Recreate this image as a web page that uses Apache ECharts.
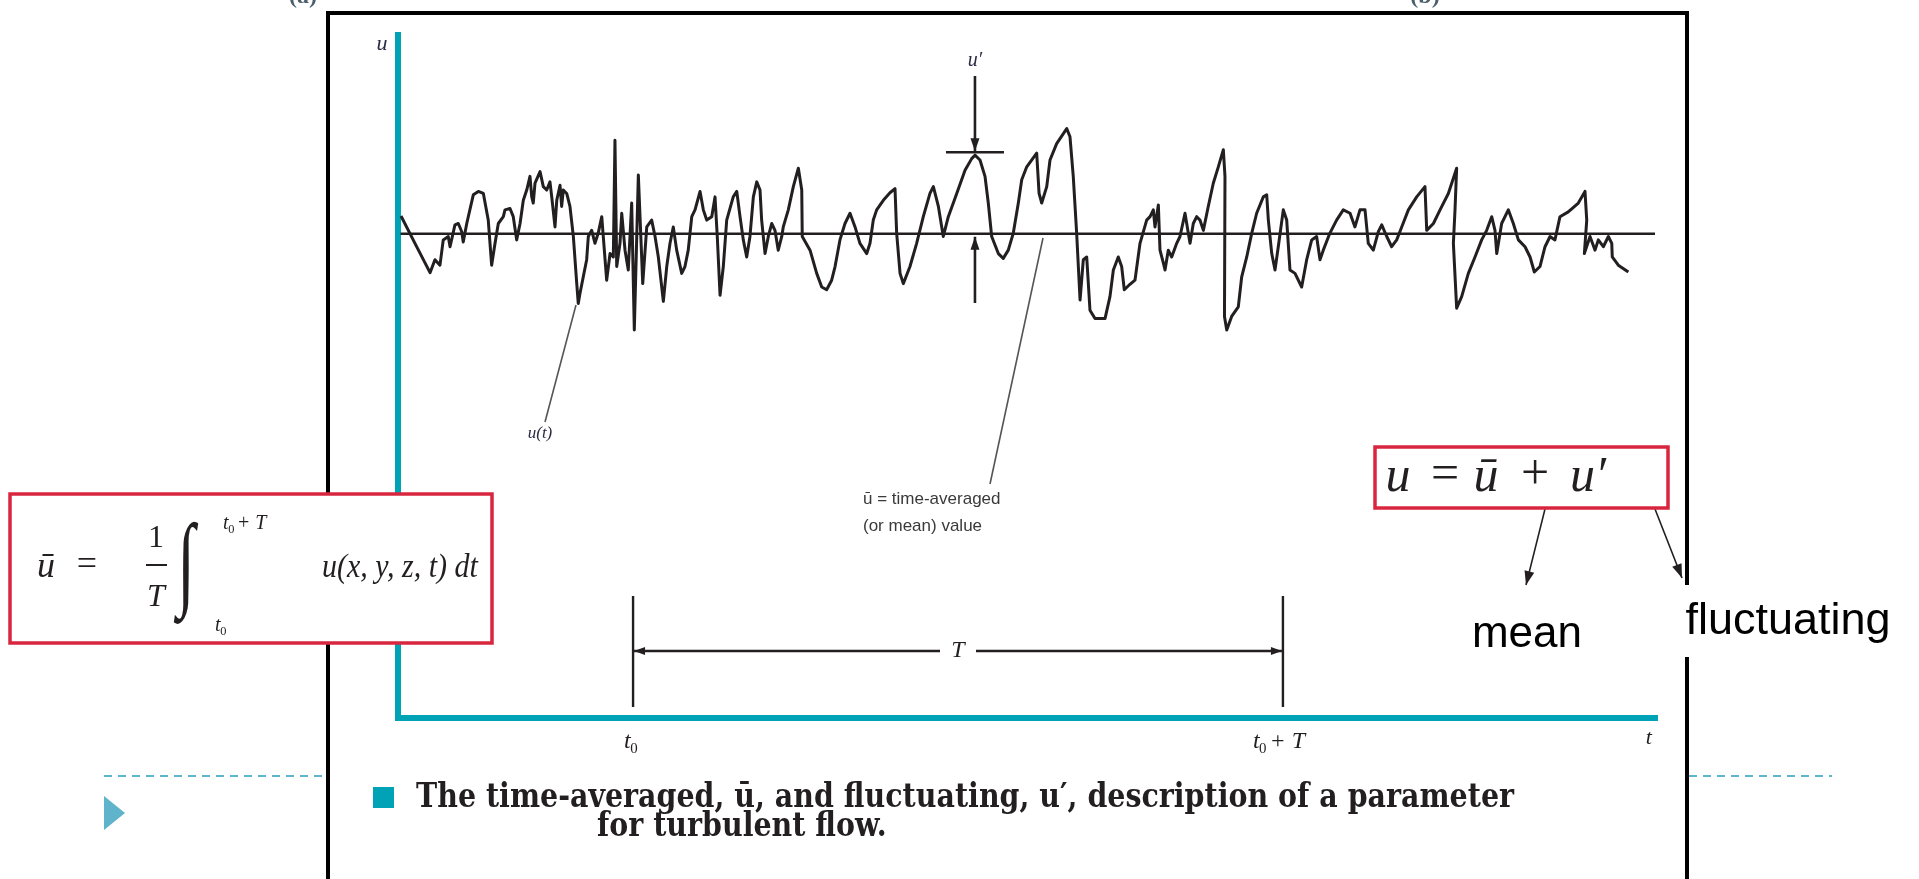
<!DOCTYPE html>
<html>
<head>
<meta charset="utf-8">
<title>Time-averaged and fluctuating description of a turbulent parameter</title>
<script src="https://cdn.jsdelivr.net/npm/echarts@6/dist/echarts.min.js"></script>
<style>
  html, body { margin: 0; padding: 0; background: #ffffff; }
  #chart { width: 1919px; height: 879px; }
</style>
</head>
<body>
<div id="chart"></div>
<script>
// Sampled record u(t): time (arbitrary units, 0–100) and velocity u (arbitrary units, 0–100)
const signalT = [
  0.24,1.35,2.55,2.94,3.34,3.60,4.00,4.14,4.53,4.80,5.07,5.19,5.47,5.99,6.39,6.79,7.18,7.45,7.72,7.98,
  8.38,8.51,8.91,9.17,9.44,9.71,9.97,10.24,10.50,10.64,10.76,10.90,11.30,11.56,11.83,12.09,12.23,12.49,12.63,12.89,
  13.02,13.15,13.42,13.68,13.95,14.22,14.34,14.48,14.74,15.01,15.14,15.41,15.67,15.93,16.21,16.33,16.60,16.87,17.13,17.26,
  17.40,17.66,17.80,18.06,18.32,18.59,18.80,19.12,
  19.47,19.79,20.18,20.45,20.71,21.11,21.38,21.64,21.90,22.17,22.57,22.83,23.09,23.37,23.63,24.03,24.29,24.56,24.96,25.22,
  25.40,25.62,25.88,26.15,26.67,26.95,27.21,27.47,27.74,28.00,28.27,28.54,28.80,28.93,29.20,29.46,29.73,29.99,30.25,30.53,
  30.65,31.05,31.45,31.85,32.12,32.16,32.78,33.31,33.71,34.10,34.50,34.77,35.16,35.56,35.96,36.36,36.75,37.29,37.55,37.81,
  38.08,38.61,
  39.14,39.54,39.67,39.94,40.20,40.73,41.26,41.79,42.32,42.59,42.99,43.38,43.78,44.45,45.11,45.64,45.90,46.30,46.70,46.96,
  47.23,47.76,48.15,48.55,48.95,49.35,49.62,50.02,50.81,51.00,51.21,51.61,51.87,52.40,53.20,53.46,53.72,53.99,54.26,54.52,
  54.79,55.05,55.45,56.25,56.64,56.91,57.30,57.57,57.78,58.23,
  58.63,59.03,59.56,59.83,60.09,60.22,60.49,60.62,60.89,61.02,61.28,61.55,61.95,62.21,62.61,62.87,63.01,63.27,63.54,63.80,
  64.07,64.46,64.86,65.26,65.66,65.79,65.75,65.93,66.32,66.85,67.12,67.52,67.92,68.31,68.84,69.11,69.24,69.51,69.77,70.03,
  70.43,70.70,70.96,71.36,71.89,72.29,72.69,73.08,73.35,73.61,74.14,74.67,75.20,75.74,76.13,76.53,76.93,77.19,77.59,77.99,
  78.26,78.66,79.05,79.45,79.85,80.38,81.04,81.70,81.84,82.37,82.90,83.56,84.22,84.09,83.96,84.22,84.62,85.15,85.68,86.21,
  86.61,87.01,87.27,87.41,87.80,88.33,88.73,89.13,89.66,90.06,90.40,90.85,91.25,91.65,92.04,92.44,93.10,93.90,94.43,94.57,
  94.38,94.83,95.23,95.49,95.89,96.29,96.56,96.60,97.08,97.88
];
const signalU = [
  73.5,69.5,65.2,67.1,66.3,70.0,70.5,69.0,72.2,72.4,71.2,69.7,72.4,76.6,77.1,76.8,72.9,66.3,69.5,72.4,
  73.4,74.4,74.6,73.4,70.0,72.4,75.8,77.3,79.3,76.3,75.4,78.3,80.0,77.8,77.3,78.5,76.3,71.9,75.8,78.0,
  74.9,77.3,76.8,74.9,70.5,63.6,60.7,62.2,64.6,67.1,70.5,71.4,69.5,71.0,73.4,70.5,64.1,68.0,67.5,84.6,
  66.1,69.5,73.9,68.5,65.6,75.4,56.8,79.5,
  63.6,71.9,72.9,70.5,67.5,61.0,66.1,69.5,71.9,68.5,65.1,66.1,68.5,73.4,74.4,77.1,74.4,72.9,73.4,76.3,
  70.5,61.9,66.1,72.9,76.3,77.1,73.4,70.0,67.5,70.5,76.3,78.5,77.3,72.9,68.0,70.5,72.4,71.4,68.5,70.5,
  71.9,74.4,77.8,80.5,77.3,70.5,68.5,65.1,63.1,62.7,64.1,66.1,70.0,72.4,73.9,71.9,69.5,68.0,69.5,72.9,
  74.4,75.8,
  76.9,77.5,71.0,65.1,63.6,66.1,69.5,73.4,76.8,77.8,74.9,70.5,73.4,76.8,80.2,81.9,82.4,81.7,79.3,75.4,
  70.5,68.0,67.3,68.5,71.0,75.4,78.8,80.7,82.7,76.8,75.4,77.8,81.7,84.1,86.3,85.1,79.3,71.0,61.2,67.1,
  67.5,59.7,58.5,58.5,61.7,65.6,67.5,66.1,62.7,63.5,
  64.1,69.5,72.9,73.4,74.4,71.9,75.1,68.5,66.6,65.6,68.5,67.5,69.5,70.5,73.9,71.0,69.5,72.4,73.4,72.9,
  71.4,74.9,78.3,80.7,83.2,79.3,58.8,56.8,58.8,60.2,64.6,67.5,71.0,73.9,76.3,76.6,72.9,68.0,65.6,69.0,
  74.4,72.9,65.6,65.1,63.1,67.1,70.0,70.5,67.1,68.5,71.0,72.9,74.4,73.9,71.9,74.4,74.4,69.5,68.5,71.2,
  72.2,70.5,69.0,70.0,71.9,74.4,76.3,77.8,71.4,72.4,74.4,76.8,80.5,74.4,69.5,60.0,61.7,65.1,67.5,70.0,
  71.4,73.4,71.4,68.0,72.4,74.4,72.4,70.0,69.0,67.5,65.3,66.1,69.0,70.5,70.0,73.4,74.1,75.4,77.1,72.9,
  68.0,70.5,68.5,70.0,69.0,70.5,69.5,67.5,66.3,65.3
];

// Time-averaged value and the span it is drawn over
const meanU = 70.9;
const meanSpan = [0.2, 100];

// Averaging window [t0, t0 + T] and the instant where u' is marked
const t0 = 18.7;
const T = 51.7;
const uPrimeT = 45.90;

// Axis extents
const tRange = [0, 100];
const uRange = [0, 100];

// Text
const captionLines = [
  'The time-averaged, \u016b, and fluctuating, u\u2032, description of a parameter',
  'for turbulent flow.'
];
const meanNote = ['\u016b = time-averaged', '(or mean) value'];

const TEAL = '#00a3b5';
const INK = '#231f20';
const RED = '#d9263f';
const DASH = '#5cb6cd';
const SERIF = '"Liberation Serif", "Times New Roman", serif';
const SANS = '"Liberation Sans", Arial, sans-serif';
const CAPTION = '"DejaVu Serif", "Liberation Serif", serif';

const chart = echarts.init(document.getElementById('chart'), null, { renderer: 'canvas' });

const axisCommon = {
  type: 'value',
  axisLine: { show: true, onZero: false, lineStyle: { color: TEAL, width: 6, cap: 'square' } },
  axisTick: { show: false },
  axisLabel: { show: false },
  splitLine: { show: false }
};

chart.setOption({
  animation: false,
  backgroundColor: '#ffffff',
  grid: { left: 398, top: 35, width: 1257, height: 683, containLabel: false },
  xAxis: Object.assign({}, axisCommon, { min: tRange[0], max: tRange[1] }),
  yAxis: Object.assign({}, axisCommon, { min: uRange[0], max: uRange[1] }),
  series: [
    {
      type: 'line',
      name: 'mean',
      data: [[meanSpan[0], meanU], [meanSpan[1], meanU]],
      symbol: 'none',
      clip: false,
      lineStyle: { color: INK, width: 2.6 },
      z: 2
    },
    {
      type: 'line',
      name: 'u(t)',
      data: signalT.map((t, i) => [t, signalU[i]]),
      symbol: 'none',
      showSymbol: false,
      lineStyle: { color: INK, width: 3, join: 'round' },
      z: 3
    }
  ]
});

const px = (t, u) => chart.convertToPixel({ gridIndex: 0 }, [t, u]);

// ---- drawing helpers -------------------------------------------------------
const measureCtx = document.createElement('canvas').getContext('2d');
function measure(str, font) { measureCtx.font = font; return measureCtx.measureText(str).width; }

function text(x, y, str, o) {
  o = o || {};
  const align = o.align || 'center';
  const valign = o.valign || 'middle';
  return {
    type: 'text', x: x, y: y, z: o.z || 30,
    scaleX: o.sx || 1, scaleY: o.sy || 1,
    style: {
      text: str,
      fill: o.fill || INK,
      fontFamily: o.family || SERIF,
      fontSize: o.size || 20,
      fontStyle: o.italic ? 'italic' : 'normal',
      fontWeight: o.bold ? 'bold' : 'normal',
      align: align, textAlign: align,
      verticalAlign: valign, textVerticalAlign: valign
    }
  };
}
function line(x1, y1, x2, y2, o) {
  o = o || {};
  return {
    type: 'line', z: o.z || 20,
    shape: { x1: x1, y1: y1, x2: x2, y2: y2 },
    style: { stroke: o.stroke || INK, lineWidth: o.width || 2, lineDash: o.dash || null, lineCap: 'butt' }
  };
}
function head(x1, y1, x2, y2, len, half, color) {
  const a = Math.atan2(y2 - y1, x2 - x1);
  const bx = x2 - len * Math.cos(a), by = y2 - len * Math.sin(a);
  const nx = -Math.sin(a) * half, ny = Math.cos(a) * half;
  return {
    type: 'polygon', z: 21,
    shape: { points: [[x2, y2], [bx + nx, by + ny], [bx - nx, by - ny]] },
    style: { fill: color || INK }
  };
}
function arrow(x1, y1, x2, y2, o) {
  o = o || {};
  return [line(x1, y1, x2, y2, o), head(x1, y1, x2, y2, o.len || 12, o.half || 4.5, o.stroke)];
}
// italic symbol with an upright subscript, optionally followed by more italic text
function subbed(x, y, base, sub, size, extra) {
  const out = [text(x, y, base, { size: size, italic: true, align: 'left' })];
  const w = measure(base, 'italic ' + size + 'px ' + SERIF);
  out.push(text(x + w - size * 0.02, y + size * 0.28, sub, { size: size * 0.62, align: 'left' }));
  if (extra) {
    const w2 = measure(sub, (size * 0.62) + 'px ' + SERIF);
    out.push(text(x + w + w2 + size * 0.1, y, extra, { size: size, italic: true, align: 'left' }));
  }
  return out;
}

const g = [];

// ---- slide frame and ornaments ---------------------------------------------
g.push(line(328, 11, 328, 879, { width: 4, stroke: '#000', z: 5 }));
g.push(line(326, 13, 1689, 13, { width: 4, stroke: '#000', z: 5 }));
g.push(line(1687, 11, 1687, 585, { width: 4, stroke: '#000', z: 5 }));
g.push(line(1687, 657, 1687, 879, { width: 4, stroke: '#000', z: 5 }));
g.push(line(104, 776, 326, 776, { width: 2, stroke: DASH, dash: [8, 6], z: 5 }));
g.push(line(1689, 776, 1832, 776, { width: 2, stroke: DASH, dash: [8, 6], z: 5 }));
g.push({ type: 'polygon', z: 5, shape: { points: [[104, 796], [125, 813], [104, 830]] }, style: { fill: '#5fb3ca' } });
g.push(text(303, -3, '(a)', { size: 24, bold: true, fill: '#4a5e6c' }));
g.push(text(1425, -3, '(b)', { size: 24, bold: true, fill: '#4a5e6c' }));

// ---- axis names --------------------------------------------------------------
g.push(text(382, 44, 'u', { size: 22, italic: true, fill: '#2b2b45' }));
const tEnd = px(99.5, 0);
g.push(text(tEnd[0], 738, 't', { size: 22, italic: true }));

// ---- averaging window T --------------------------------------------------------
const xa = px(t0, 0)[0], xb = px(t0 + T, 0)[0];
const yT = 651;
g.push(line(xa, 596, xa, 707, { width: 2.4 }));
g.push(line(xb, 596, xb, 707, { width: 2.4 }));
const xm = (xa + xb) / 2;
g.push(...arrow(xm - 18, yT, xa + 1, yT, { width: 2.4, len: 11, half: 4 }));
g.push(...arrow(xm + 18, yT, xb - 1, yT, { width: 2.4, len: 11, half: 4 }));
g.push(text(xm, yT, 'T', { size: 24, italic: true }));
g.push(...subbed(xa - 9, 742, 't', '0', 24));
g.push(...subbed(xb - 30, 742, 't', '0', 24, '+ T'));

// ---- fluctuation u' at its marked instant -------------------------------------------
const iPeak = signalT.indexOf(uPrimeT);
const pPeak = px(signalT[iPeak], signalU[iPeak]);
const pMean = px(signalT[iPeak], meanU);
const barY = pPeak[1] - 3;
g.push(line(pPeak[0] - 29, barY, pPeak[0] + 29, barY, { width: 2.6 }));
g.push(...arrow(pPeak[0], 76, pPeak[0], barY - 1, { width: 2.6, len: 13, half: 4.5 }));
g.push(...arrow(pPeak[0], 303, pPeak[0], pMean[1] + 3, { width: 2.6, len: 13, half: 4.5 }));
g.push(text(pPeak[0], 61, 'u\u2032', { size: 20, italic: true, fill: '#2b2b45' }));

// ---- leaders and notes ----------------------------------------------------------
g.push(line(576, 305, 545, 422, { width: 1.6, stroke: '#555' }));
g.push(text(540, 434, 'u(t)', { size: 17, italic: true, fill: '#2b2b45' }));
g.push(line(1043, 238, 990, 484, { width: 1.6, stroke: '#555' }));
g.push(text(863, 499, meanNote[0], { size: 17, family: SANS, align: 'left', fill: '#3a3a3a' }));
g.push(text(863, 526, meanNote[1], { size: 17, family: SANS, align: 'left', fill: '#3a3a3a' }));

// ---- definition of the mean ----------------------------------------------------------
g.push({ type: 'rect', z: 25, shape: { x: 10, y: 494, width: 482, height: 149 },
         style: { fill: '#ffffff', stroke: RED, lineWidth: 3.5 } });
g.push(text(46, 568, '\u016b', { size: 36, italic: true }));
g.push(text(87, 566, '=', { size: 36 }));
g.push(text(156, 539, '1', { size: 32 }));
g.push(line(146, 565, 167, 565, { width: 2, z: 31 }));
g.push(text(156, 598, 'T', { size: 32, italic: true }));
g.push(text(186, 569, '\u222B', { size: 104, sx: 0.62 }));
g.push(...subbed(223, 524, 't', '0', 20, '+ T'));
g.push(...subbed(215, 626, 't', '0', 20));
g.push(text(322, 568, 'u(x, y, z, t) dt', { size: 30, italic: true, align: 'left', sy: 1.12 }));

// ---- decomposition u = ū + u' -------------------------------------------------------
g.push({ type: 'rect', z: 25, shape: { x: 1375, y: 447, width: 293, height: 61 },
         style: { fill: '#ffffff', stroke: RED, lineWidth: 3.5 } });
g.push(text(1398, 478, 'u', { size: 50, italic: true }));
g.push(text(1445, 476, '=', { size: 50 }));
g.push(text(1486, 478, '\u016b', { size: 50, italic: true }));
g.push(text(1535, 476, '+', { size: 50 }));
g.push(text(1588, 478, 'u\u2032', { size: 50, italic: true }));
g.push(...arrow(1545, 509, 1526, 585, { width: 1.6, len: 14, half: 5 }));
g.push(...arrow(1655, 509, 1682, 578, { width: 1.6, len: 14, half: 5 }));
g.push(text(1527, 635, 'mean', { size: 44, family: SANS, fill: '#000' }));
g.push(text(1788, 622, 'fluctuating', { size: 45, family: SANS, fill: '#000' }));

// ---- caption ----------------------------------------------------------------------
g.push({ type: 'rect', z: 5, shape: { x: 373, y: 787, width: 21, height: 21 }, style: { fill: TEAL } });
const capSize = 30;
const capFont = 'bold ' + capSize + 'px ' + CAPTION;
const capScale = 1098 / measure(captionLines[0], capFont);
g.push(text(416, 798, captionLines[0], { size: capSize, bold: true, family: CAPTION, align: 'left', sx: capScale, sy: 1.12 }));
g.push(text(597, 827, captionLines[1], { size: capSize, bold: true, family: CAPTION, align: 'left', sx: capScale, sy: 1.12 }));

chart.setOption({ graphic: { elements: g } });
</script>
</body>
</html>
